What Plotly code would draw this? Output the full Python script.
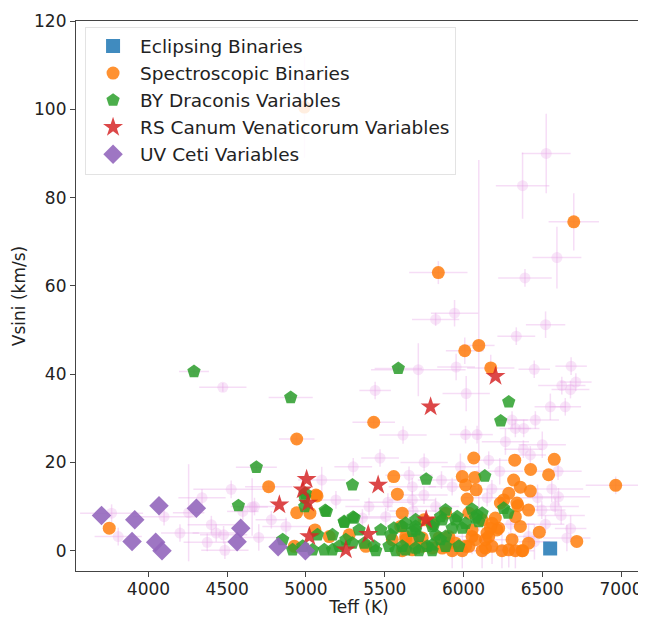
import plotly.graph_objects as go

# ---------------- data ----------------
eb_teff = [6550]
eb_vsini = [0.5]

sb_teff = [4990, 6700, 5840, 6008, 6097, 6173, 5430, 4941, 3751, 4763, 5070, 4941, 5025, 5057, 5063,
           5148, 5274, 4926, 5380, 5611, 5633, 5801, 5886, 5886, 5738,
           6065, 6325, 6576, 5557, 5992, 6072, 6426, 6540, 6966, 5580, 6013, 6080, 6023, 6318, 6361,
           6424, 6287, 6255, 6345, 6413, 6329, 6361, 6481, 6719,
           5548, 5611, 5675, 5865, 5928, 5907, 5992, 6034, 6054, 6118, 6139, 6181, 6213, 6244, 6329,
           6371, 6149, 6181, 6413, 6287,
           6234, 6339, 6223, 6160, 6308, 6139, 6076, 6013, 5801, 5675, 6171, 6054, 6118, 6202, 6034,
           5749, 5738, 5601, 5633, 5844, 5907, 5949, 6376]
sb_vsini = [100.5, 74.5, 63.0, 45.3, 46.5, 41.4, 29.1, 25.3, 5.1, 14.5, 12.4, 8.6, 8.5, 4.7, 12.6,
            3.2, 3.6, 1.0, 1.0, 8.5, 3.2, 6.2, 8.5, 1.0, 1.0,
            21.0, 20.5, 20.7, 16.8, 16.8, 16.6, 18.4, 17.2, 14.8, 12.8, 14.9, 13.8, 11.7, 16.0, 14.4,
            13.5, 13.0, 11.5, 10.2, 9.2, 7.7, 5.5, 4.2, 2.1,
            2.5, 0.0, 2.5, 0.6, 0.0, 1.7, 0.0, 1.0, 3.2, 0.0, 2.5, 1.0, 4.7, 0.0, 0.0,
            0.0, 4.0, 6.2, 1.7, 0.2,
            10.8, 10.8, 5.1, 3.2, 2.5, 0.6, 2.5, 1.0, 0.6, 0.2, 5.1, 4.7, 7.0, 7.4, 8.5,
            7.0, 2.9, 5.5, 2.5, 2.9, 3.2, 1.7, 0.0]

by_teff = [4289, 4903, 5586, 6287, 6236, 4685, 4571, 4996, 4992, 4992, 5122, 5295, 5299, 5244, 5763,
           6135, 6255, 6282, 6054, 6076, 6118, 5886, 5854, 5949, 5928, 5992, 5812, 5823, 5696, 5675,
           5611, 5558, 5475, 5538, 5570, 5611, 5717, 5770, 5801, 5854, 5432, 5443,
           5130, 5242, 5306, 5073, 5168, 5211, 5295, 5369, 5116, 5042, 4852, 5633, 5696, 5960,
           5865, 5801, 5696, 5717, 5886, 6013, 6086, 6097, 5633, 5696, 5801, 5886, 5970,
           4915, 4979, 5168, 5253, 5527, 5337]
by_vsini = [40.6, 34.7, 41.3, 33.7, 29.4, 18.9, 10.2, 13.0, 12.0, 10.0, 9.1, 14.9, 7.6, 6.4, 16.2,
            16.9, 9.6, 8.5, 9.4, 7.4, 8.5, 9.2, 7.7, 7.0, 5.1, 5.1, 5.9, 3.6, 7.0, 4.4,
            5.5, 5.1, 4.7, 3.6, 0.0, 1.0, 0.0, 1.0, 0.0, 2.5, 1.0, 0.0,
            8.9, 6.6, 7.4, 3.6, 3.6, 1.0, 1.7, 1.7, 0.2, 0.2, 2.5, 6.2, 4.7, 7.7,
            7.0, 5.5, 5.5, 3.2, 3.2, 6.2, 8.1, 6.6, 0.2, 0.6, 1.3, 1.0, 1.0,
            0.2, 1.0, 0.2, 2.5, 1.0, 4.7]

rs_teff = [6203, 5791, 4831, 5004, 4979, 5013, 5021, 5253, 5458, 5763, 5395]
rs_vsini = [39.5, 32.6, 10.4, 16.2, 13.8, 10.8, 3.2, 0.2, 14.9, 7.0, 3.7]

uv_teff = [3702, 3913, 4067, 4304, 3896, 4046, 4086, 4586, 4563, 4823, 4996]
uv_vsini = [8.0, 7.0, 10.2, 9.6, 2.1, 1.9, 0.0, 5.1, 2.0, 0.9, 0.0]

# whole sample (background, with uncertainties)
sample_teff = [6525, 6375, 6593, 6390, 6521, 5943, 5823, 6335, 5713, 5953, 6449, 6683, 5439, 6017,
               6624, 6713, 6679, 6551, 6646, 4472, 5616, 6013, 6086, 6266, 6329, 6382, 6456, 6308,
               6424, 6160, 5654, 5928, 5749, 6603, 6582, 5506, 6497, 6656, 6413,
               4525, 4658, 4255, 4099, 4399, 4430, 4477, 4373, 4485, 3808, 3766, 4873, 5190, 5358,
               4599, 4673, 5675, 5675, 5823,
               4990, 6700, 5840, 6008, 6097, 6173, 6966, 4289, 4903, 4941, 5430, 4685, 5586, 4763,
               5992, 6118, 6244, 6329, 6054, 6181, 5928, 6287, 6139,
               6470, 6520, 6560, 6620, 6450, 6380, 6230, 6150, 5750, 5520, 5300, 5100, 5400, 4780,
               4700, 4340, 4200, 6680, 6300, 6180, 5980, 5860, 5680, 5470, 6500, 6600]
sample_vsini = [90.0, 82.7, 66.4, 61.8, 51.2, 53.8, 52.4, 48.6, 41.0, 41.6, 41.1, 41.8, 36.3, 35.6,
                37.4, 38.2, 36.5, 32.6, 32.6, 37.0, 26.2, 26.3, 26.3, 24.7, 27.7, 27.7, 29.6, 29.6,
                21.7, 20.5, 17.1, 14.5, 12.6, 12.2, 10.0, 7.7, 9.2, 2.9, 3.2,
                13.9, 9.9, 8.6, 7.7, 5.9, 4.0, 3.6, 1.9, 0.1, 3.2, 8.5, 5.5, 11.5, 7.4,
                8.9, 10.0, 14.5, 11.5, 10.0,
                100.5, 74.5, 63.0, 45.3, 46.5, 41.4, 14.8, 40.6, 34.7, 25.3, 29.1, 18.9, 41.3, 14.5,
                0.0, 0.0, 0.0, 0.0, 3.2, 1.0, 0.0, 0.2, 2.5,
                12.0, 6.0, 14.0, 8.0, 2.0, 23.0, 18.0, 12.0, 20.0, 11.0, 19.0, 16.0, 10.0, 7.0,
                3.0, 12.0, 4.0, 5.0, 6.0, 14.0, 19.0, 16.0, 9.0, 21.0, 24.0, 18.0]
sample_teff_err = [155, 170, 155, 170, 125, 150, 150, 120, 300, 120, 100, 100, 100, 150,
                   150, 100, 120, 100, 100, 150, 150, 100, 100, 150, 100, 100, 150, 100,
                   100, 120, 150, 150, 150, 200, 150, 150, 150, 150, 100,
                   240, 100, 100, 200, 150, 150, 150, 150, 150, 150, 200, 150, 150, 150,
                   100, 150, 150, 150, 150,
                   195, 160, 185, 120, 100, 150, 190, 95, 140, 113, 135, 130, 150, 150,
                   120, 100, 100, 120, 150, 100, 120, 100, 150,
                   150, 120, 200, 150, 100, 120, 150, 150, 150, 150, 120, 150, 150, 100,
                   150, 150, 120, 100, 150, 150, 120, 150, 150, 120, 150, 150]
sample_vsini_err = [9.0, 7.5, 7.0, 2.0, 3.0, 3.0, 1.5, 2.0, 6.0, 3.0, 2.0, 2.0, 2.0, 4.0,
                    2.0, 2.0, 2.0, 3.0, 2.0, 1.0, 2.0, 2.0, 2.0, 3.0, 2.0, 2.0, 2.0, 2.0,
                    2.0, 2.0, 2.0, 2.0, 2.0, 2.0, 2.0, 2.0, 2.0, 3.0, 3.0,
                    2.0, 6.5, 11.0, 2.0, 2.0, 2.0, 2.0, 2.0, 2.0, 2.0, 2.0, 2.0, 2.0, 2.0,
                    2.0, 2.0, 2.0, 2.0, 2.0,
                    11.5, 6.5, 2.6, 3.0, 42.0, 3.0, 2.0, 1.0, 1.0, 1.0, 1.0, 1.0, 1.0, 1.0,
                    4.0, 4.0, 4.0, 4.0, 4.0, 4.0, 4.0, 4.0, 4.0,
                    3.0, 2.0, 3.0, 2.0, 4.0, 2.0, 3.0, 2.0, 2.0, 2.0, 2.0, 3.0, 2.0, 2.0,
                    3.0, 2.0, 2.0, 3.0, 2.0, 2.0, 3.0, 2.0, 2.0, 2.0, 3.0, 2.0]

# ---------------- figure ----------------
PINK = "rgba(232,170,232,0.30)"
PINK_BAR = "rgba(232,170,232,0.40)"

fig = go.Figure()

fig.add_trace(go.Scatter(
    x=sample_teff, y=sample_vsini, mode="markers", showlegend=False, hoverinfo="skip",
    marker=dict(symbol="circle", size=11, color=PINK, line=dict(width=0)),
    error_x=dict(type="data", array=sample_teff_err, color=PINK_BAR, thickness=1.5, width=0),
    error_y=dict(type="data", array=sample_vsini_err, color=PINK_BAR, thickness=1.5, width=0),
))

groups = [
    ("Eclipsing Binaries", eb_teff, eb_vsini, "square", 14, "rgba(31,119,180,0.85)"),
    ("Spectroscopic Binaries", sb_teff, sb_vsini, "circle", 13, "rgba(255,127,14,0.85)"),
    ("BY Draconis Variables", by_teff, by_vsini, "pentagon", 14, "rgba(44,160,44,0.85)"),
    ("RS Canum Venaticorum Variables", rs_teff, rs_vsini, "star", 15, "rgba(214,39,40,0.85)"),
    ("UV Ceti Variables", uv_teff, uv_vsini, "diamond", 15, "rgba(148,103,189,0.9)"),
]
for name, xs, ys, sym, size, col in groups:
    fig.add_trace(go.Scatter(
        x=xs, y=ys, mode="markers", name=name,
        marker=dict(symbol=sym, size=size, color=col, line=dict(width=0)),
    ))

axis_common = dict(
    showgrid=False, zeroline=False, showline=True, linecolor="#444", linewidth=1.2,
    mirror=True, ticks="outside", ticklen=5, tickcolor="#444", tickwidth=1.2,
    tickfont=dict(family="DejaVu Sans", size=17, color="#222"),
)

# the page body has an 8px margin, so the figure is offset by (8, 8)
fig.update_layout(
    width=638, height=609, autosize=False,
    margin=dict(l=68, r=3, t=11, b=45),
    plot_bgcolor="white", paper_bgcolor="white",
    font=dict(family="DejaVu Sans", color="#222"),
    xaxis=dict(range=[3540, 7133], tickvals=[4000, 4500, 5000, 5500, 6000, 6500, 7000],
               ticklabelstandoff=-3,
               title=dict(text="Teff (K)", font=dict(size=17), standoff=4), **axis_common),
    yaxis=dict(range=[-4.6, 120], tickvals=[0, 20, 40, 60, 80, 100, 120],
               title=dict(text="Vsini (km/s)", font=dict(size=17), standoff=4), **axis_common),
    legend=dict(x=0.016, y=0.99, xanchor="left", yanchor="top",
                bgcolor="rgba(255,255,255,0.85)", bordercolor="#e3e3e3", borderwidth=1,
                font=dict(family="DejaVu Sans", size=18.5, color="#222"),
                itemwidth=44),
)

fig.write_html("out.html")
